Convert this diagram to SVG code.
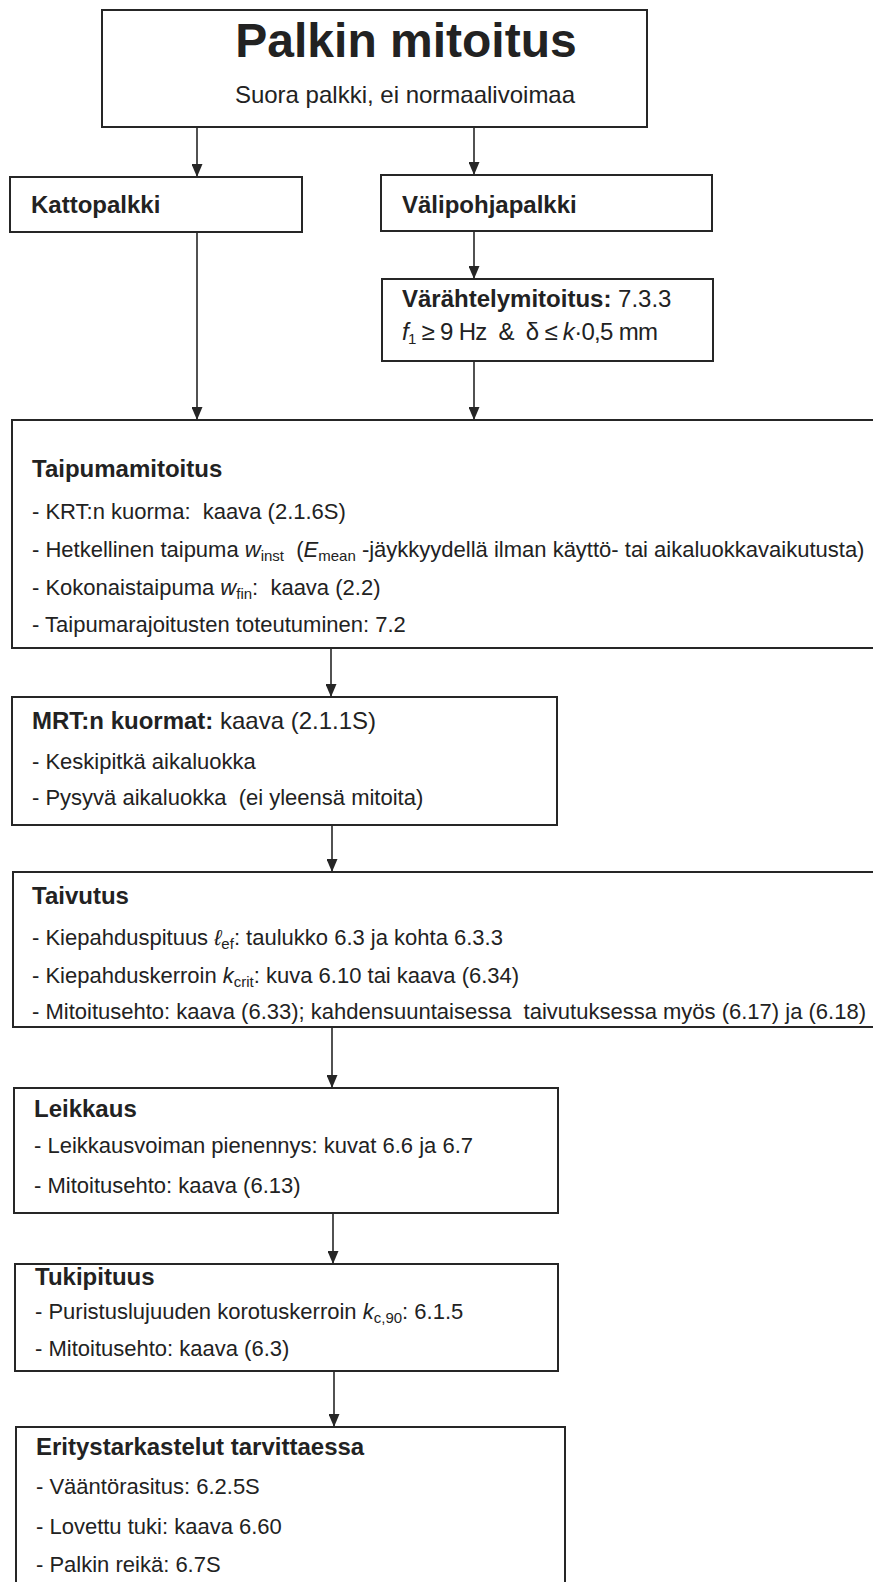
<svg xmlns="http://www.w3.org/2000/svg" width="873" height="1582" viewBox="0 0 873 1582">
<defs>
<style>
.box{fill:#fff;stroke:#262626;stroke-width:2}
.t{font-family:"Liberation Sans",Arial,sans-serif;fill:#222;white-space:pre}
.h{font-size:24px;font-weight:bold}
.b{font-size:22px}
.m{font-size:24px}
.i{font-style:italic}
.conn{stroke:#262626;stroke-width:1.6;fill:none;marker-end:url(#arr)}
</style>
<marker id="arr" viewBox="0 0 13 11" refX="13" refY="5.5" markerWidth="13" markerHeight="11" markerUnits="userSpaceOnUse" orient="auto"><path d="M0,0 L13,5.5 L0,11 z" fill="#262626"/></marker>
</defs>
<rect width="873" height="1582" fill="#fff"/>
<g id="connectors">
<line class="conn" x1="197" y1="127" x2="197" y2="177"/>
<line class="conn" x1="474" y1="127" x2="474" y2="175"/>
<line class="conn" x1="197" y1="232" x2="197" y2="420"/>
<line class="conn" x1="474" y1="231" x2="474" y2="279"/>
<line class="conn" x1="474" y1="361" x2="474" y2="420"/>
<line class="conn" x1="331" y1="648" x2="331" y2="697"/>
<line class="conn" x1="332" y1="825" x2="332" y2="872"/>
<line class="conn" x1="332" y1="1027" x2="332" y2="1088"/>
<line class="conn" x1="333" y1="1213" x2="333" y2="1264"/>
<line class="conn" x1="334" y1="1371" x2="334" y2="1427"/>
</g>
<g id="title">
<rect class="box" x="102" y="10" width="545" height="117" stroke-width="2.5"/>
<text class="t" x="406" y="57" text-anchor="middle" font-size="48" font-weight="bold">Palkin mitoitus</text>
<text class="t" x="405" y="103" text-anchor="middle" font-size="24">Suora palkki, ei normaalivoimaa</text>
</g>
<g id="kattopalkki">
<rect class="box" x="10" y="177" width="292" height="55"/>
<text class="t h" x="31" y="213">Kattopalkki</text>
</g>
<g id="valipohjapalkki">
<rect class="box" x="381" y="175" width="331" height="56"/>
<text class="t h" x="402" y="213">Välipohjapalkki</text>
</g>
<g id="varahtely">
<rect class="box" x="382" y="279" width="331" height="82"/>
<text class="t m" x="402" y="307"><tspan font-weight="bold">Värähtelymitoitus:</tspan> 7.3.3</text>
<text class="t m" x="402" y="340" textLength="256" lengthAdjust="spacing"><tspan class="i">f</tspan><tspan font-size="15" dy="4">1</tspan><tspan dy="-4"> ≥ 9 Hz  &amp;  δ ≤ </tspan><tspan class="i">k</tspan>·0,5 mm</text>
</g>
<g id="taipuma">
<rect class="box" x="12" y="420" width="870" height="228"/>
<text class="t h" x="32" y="477">Taipumamitoitus</text>
<text class="t b" x="32" y="519">- KRT:n kuorma:  kaava (2.1.6S)</text>
<text class="t b" x="32" y="557">- Hetkellinen taipuma <tspan class="i">w</tspan><tspan font-size="15" dy="4">inst</tspan><tspan dy="-4">  (</tspan><tspan class="i">E</tspan><tspan font-size="15" dy="4">mean</tspan><tspan dy="-4"> -jäykkyydellä ilman käyttö- tai aikaluokkavaikutusta)</tspan></text>
<text class="t b" x="32" y="595">- Kokonaistaipuma <tspan class="i">w</tspan><tspan font-size="15" dy="4">fin</tspan><tspan dy="-4">:  kaava (2.2)</tspan></text>
<text class="t b" x="32" y="632">- Taipumarajoitusten toteutuminen: 7.2</text>
</g>
<g id="mrt">
<rect class="box" x="12" y="697" width="545" height="128"/>
<text class="t m" x="32" y="729"><tspan font-weight="bold">MRT:n kuormat:</tspan> kaava (2.1.1S)</text>
<text class="t b" x="32" y="769">- Keskipitkä aikaluokka</text>
<text class="t b" x="32" y="805">- Pysyvä aikaluokka  (ei yleensä mitoita)</text>
</g>
<g id="taivutus">
<rect class="box" x="13" y="872" width="870" height="155"/>
<text class="t h" x="32" y="904">Taivutus</text>
<text class="t b" x="32" y="945">- Kiepahduspituus <tspan class="i">ℓ</tspan><tspan font-size="15" dy="4">ef</tspan><tspan dy="-4">: taulukko 6.3 ja kohta 6.3.3</tspan></text>
<text class="t b" x="32" y="983">- Kiepahduskerroin <tspan class="i">k</tspan><tspan font-size="15" dy="4">crit</tspan><tspan dy="-4">: kuva 6.10 tai kaava (6.34)</tspan></text>
<text class="t b" x="32" y="1019">- Mitoitusehto: kaava (6.33); kahdensuuntaisessa  taivutuksessa myös (6.17) ja (6.18)</text>
</g>
<g id="leikkaus">
<rect class="box" x="14" y="1088" width="544" height="125"/>
<text class="t h" x="34" y="1117">Leikkaus</text>
<text class="t b" x="34" y="1153">- Leikkausvoiman pienennys: kuvat 6.6 ja 6.7</text>
<text class="t b" x="34" y="1193">- Mitoitusehto: kaava (6.13)</text>
</g>
<g id="tukipituus">
<rect class="box" x="15" y="1264" width="543" height="107"/>
<text class="t h" x="35" y="1285">Tukipituus</text>
<text class="t b" x="35" y="1319">- Puristuslujuuden korotuskerroin <tspan class="i">k</tspan><tspan font-size="15" dy="4">c,90</tspan><tspan dy="-4">: 6.1.5</tspan></text>
<text class="t b" x="35" y="1356">- Mitoitusehto: kaava (6.3)</text>
</g>
<g id="erityistarkastelut">
<rect class="box" x="16" y="1427" width="549" height="170"/>
<text class="t h" x="36" y="1455">Eritystarkastelut tarvittaessa</text>
<text class="t b" x="36" y="1494">- Vääntörasitus: 6.2.5S</text>
<text class="t b" x="36" y="1534">- Lovettu tuki: kaava 6.60</text>
<text class="t b" x="36" y="1572">- Palkin reikä: 6.7S</text>
</g>
</svg>
